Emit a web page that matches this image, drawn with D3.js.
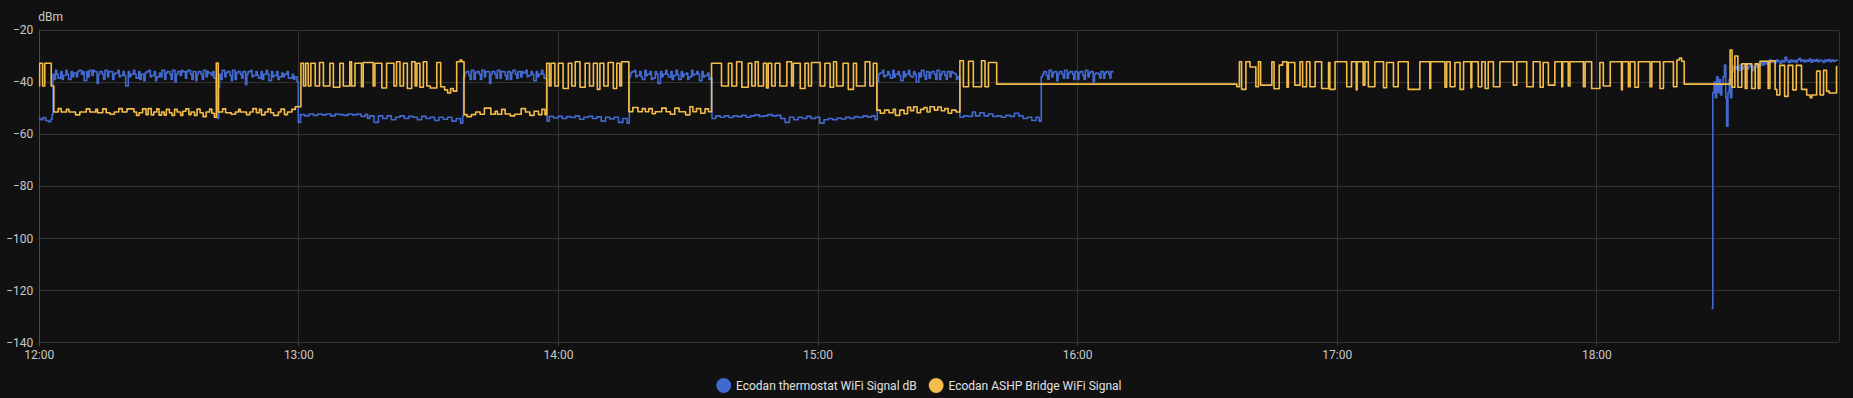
<!DOCTYPE html>
<html><head><meta charset="utf-8">
<script src="https://cdn.jsdelivr.net/npm/d3@7"></script>
<style>
html,body{margin:0;padding:0;background:#111111;}
svg{display:block;}
text{font-family:Roboto,"Noto Sans",sans-serif;}
</style></head><body>
<svg id="chart" width="1853" height="398"></svg>
<script>
// ---- data ----
const seriesNames = ["Ecodan thermostat WiFi Signal dB", "Ecodan ASHP Bridge WiFi Signal"];
const seriesColors = ["#4269d0", "#f4bd4a"];
const yTicks = [-140, -120, -100, -80, -60, -40, -20];
const yUnit = "dBm";
const xTickLabels = ["12:00", "13:00", "14:00", "15:00", "16:00", "17:00", "18:00"];
const startTime = new Date(2024, 0, 1, 12, 0);
const spanMinutes = 416; // 12:00 -> 18:56

// [minutes after 12:00, dBm]
const thermostatSignal = [
[0,-54],[0.5,-54.5],[1.0,-53.6],[1.6,-54.8],[2.2,-55.2],[2.8,-54.3],[3.1,-52.5],
[3.3,-37],[3.6,-39],[3.9,-35.5],[4.2,-37],[4.5,-38.5],[5.1,-36],[5.4,-39],[5.7,-37.5],[6.3,-35.5],[6.6,-37],[6.9,-39],[7.5,-36],[7.8,-38],[8.1,-36.5],[8.7,-38],[9.0,-36],[9.3,-35.5],[9.9,-37],[10.2,-36],[10.5,-39.5],[11.1,-36],[11.4,-38],[11.7,-35.5],[12.3,-37.5],[12.6,-35.5],[12.9,-36],[13.5,-40.5],[13.8,-37],[14.1,-36],[14.7,-37],[15.0,-39],[15.3,-35.5],[15.9,-38],[16.2,-36],[16.5,-36],[17.1,-39],[17.4,-37],[17.7,-36.5],[18.3,-35.5],[18.6,-38],[18.9,-37.5],[19.5,-36],[19.8,-37.5],[20.1,-41.5],[20.7,-36],[21.0,-38],[21.3,-37],[21.9,-35.5],[22.2,-37],[22.5,-38.5],[23.1,-36],[23.4,-39],[23.7,-37],[24.3,-39.5],[24.6,-36.5],[24.9,-36],[25.5,-35.5],[25.8,-38],[26.1,-37.5],[26.7,-36],[27.0,-39.5],[27.3,-38],[27.9,-36.5],[28.2,-38],[28.5,-35.5],[29.1,-39],[29.4,-36.5],[29.7,-36],[30.3,-37],[30.6,-39],[30.9,-35.5],[31.5,-40],[31.8,-37],[32.1,-36],[32.7,-37.5],[33.0,-35.5],[33.3,-36],[33.9,-38.5],[34.2,-36],[34.5,-35.5],[35.1,-37],[35.4,-39],[35.7,-36],[36.3,-39.5],[36.6,-37],[36.9,-36],[37.5,-37],[37.8,-39],[38.1,-35.5],[38.7,-38],[39.0,-36],[39.3,-36.5],[39.9,-37.5],[40.2,-36],[40.5,-38.5],[41.0,-40],
[41.1,-46],[41.3,-54],[41.6,-42],[41.8,-37],
[42.1,-39],[42.4,-35.5],[43.0,-38],[43.3,-36.5],[43.6,-36],[44.2,-37.5],[44.5,-39.5],[44.8,-35.5],[45.4,-39],[45.7,-36.5],[46.0,-36],[46.6,-37],[46.9,-38.5],[47.2,-36],[47.8,-41],[48.1,-37],[48.4,-36],[49.0,-35.5],[49.3,-38],[49.6,-37.5],[50.2,-36],[50.5,-37.5],[50.8,-38.5],[51.4,-36],[51.7,-39],[52.0,-37],[52.6,-35.5],[52.9,-37],[53.2,-39.5],[53.8,-36],[54.1,-38],[54.4,-37.5],[55.0,-36],[55.3,-39],[55.6,-38],[56.2,-36.5],[56.5,-38],[56.8,-37],[57.4,-36],[57.7,-38.5],[58.0,-38.5],[58.6,-37],[58.9,-39],[59.2,-38],[59.7,-40],
[60.0,-55.5],[60.5,-52.5],[61.5,-53],[62.5,-52.3],[63.5,-52.8],[64.5,-52.3],[65.5,-52.6],[66.5,-52.3],[67.5,-53],[68.5,-52.3],[69.5,-52.5],[70.5,-52.8],[71.5,-52.3],[72.5,-52.6],[73.5,-52.3],[74.5,-53.2],[75.5,-52.4],[76.0,-54],[76.5,-53],[77.5,-55.5],[78.5,-53],[79.5,-54],[80.5,-53],[81.5,-54.5],[82.5,-53.5],[83.5,-53],[84.5,-54],[85.5,-53.2],[86.5,-53.5],[87.5,-54.5],[88.5,-53.2],[89.5,-54],[90.5,-53.5],[91.5,-54.8],[92.5,-53.5],[93.5,-54.3],[94.5,-53.5],[95.5,-55],[96.5,-54],[97.5,-55.8],[98.0,-53],
[98.2,-38],[98.5,-36.5],[98.8,-36],[99.4,-37.5],[99.7,-39],[100.0,-35.5],[100.6,-39],[100.9,-36.5],[101.2,-36],[101.8,-37],[102.1,-39],[102.4,-35.5],[103.0,-38],[103.3,-36],[103.6,-36],[104.2,-40.5],[104.5,-37],[104.8,-36],[105.4,-37],[105.7,-38.5],[106.0,-35.5],[106.6,-38.5],[106.9,-36],[107.2,-36],[107.8,-37.5],[108.1,-39],[108.4,-36],[109.0,-39],[109.3,-36.5],[109.6,-35.5],[110.2,-37],[110.5,-38.5],[110.8,-36],[111.4,-38],[111.7,-36],[112.0,-36.5],[112.6,-35.5],[112.9,-38],[113.2,-37.5],[113.8,-36],[114.1,-37],[114.4,-39.5],[115.0,-36],[115.3,-38],[115.6,-37],[116.2,-35.5],[116.5,-37],[116.8,-38.5],[117.3,-39],
[117.5,-55],[118.0,-53.2],[119.0,-53.8],[120.0,-53.2],[121.0,-54],[122.0,-53.3],[123.0,-53.6],[124.0,-53],[125.0,-54.3],[126.0,-53.5],[127.0,-53.2],[128.0,-54],[129.0,-53.4],[130.0,-55],[131.0,-53.5],[132.0,-54.2],[133.0,-53.5],[134.0,-55.5],[135.0,-54],[136.0,-55.8],
[136.5,-38],[136.8,-36.5],[137.1,-36],[137.7,-35.5],[138.0,-38],[138.3,-37.5],[138.9,-36],[139.2,-38],[139.5,-39],[140.1,-35.5],[140.4,-37.5],[140.7,-37],[141.3,-36],[141.6,-39],[141.9,-38.5],[142.5,-36],[142.8,-37],[143.1,-40.5],[143.7,-36],[144.0,-38],[144.3,-37],[144.9,-35.5],[145.2,-37],[145.5,-38],[146.1,-36],[146.4,-39],[146.7,-37.5],[147.3,-35.5],[147.6,-37],[147.9,-39],[148.5,-36],[148.8,-38],[149.1,-37],[149.7,-36.5],[150.0,-39],[150.3,-38],[150.9,-35.5],[151.2,-37.5],[151.5,-37],[152.1,-36],[152.4,-37],[152.7,-39.5],[153.3,-36],[153.6,-38],[154.0,-37.5],[154.6,-36.5],[154.9,-39],[155.2,-38.5],
[155.6,-54],[156.5,-53],[157.5,-53.5],[158.5,-53],[159.5,-53.6],[160.5,-53],[161.5,-53.3],[162.5,-52.8],[163.5,-53.5],[164.5,-53],[165.5,-52.6],[166.5,-53.2],[167.5,-53],[168.5,-52.5],[169.5,-53],[170.5,-52.8],[171.5,-54],[172.5,-55.5],[173.5,-53.5],[174.5,-54.5],[175.5,-53.5],[176.5,-54],[177.5,-53.2],[178.5,-54],[179.5,-53.5],[180.5,-55.8],[181.5,-54.5],[182.5,-54],[183.5,-54.5],[184.5,-53.8],[185.5,-54.2],[186.5,-53.5],[187.5,-54],[188.5,-53.3],[189.5,-53.6],[190.5,-53],[191.5,-53.4],[192.5,-53],[193.3,-54.5],
[193.8,-40],[194.1,-37],[194.4,-36.5],[195.0,-35.5],[195.3,-38],[195.6,-37.5],[196.2,-36],[196.5,-37],[196.8,-38.5],[197.4,-35.5],[197.7,-38],[198.0,-37],[198.6,-36],[198.9,-37.5],[199.2,-39.5],[199.8,-36],[200.1,-38],[200.4,-37],[201.0,-35.5],[201.3,-37.5],[201.6,-38],[202.2,-36],[202.5,-37],[202.8,-40],[203.4,-36.5],[203.7,-38],[204.0,-35.5],[204.6,-37.5],[204.9,-39],[205.2,-36],[205.8,-38.5],[206.1,-36.5],[206.4,-36],[207.0,-37],[207.3,-39],[207.6,-35.5],[208.2,-39],[208.5,-37],[208.8,-36],[209.4,-37.5],[209.7,-39],[210.0,-36],[210.6,-38],[210.9,-36],[211.2,-36.5],[211.8,-37],[212.1,-39],[212.4,-38],
[212.9,-53.5],[213.8,-53],[214.8,-53.2],[215.8,-51.5],[216.5,-53],[217.5,-51.8],[218.5,-53],[219.5,-52.3],[220.5,-53.2],[221.5,-53],[222.5,-53.5],[223.5,-52.8],[224.5,-53.2],[225.5,-52],[226.5,-53],[227.5,-54],[228.5,-53.5],[229.5,-54.8],[230.5,-53.5],[231.2,-55],
[231.7,-38],[232.0,-37],[232.3,-36],[232.9,-37.5],[233.2,-39],[233.5,-35.5],[234.1,-38],[234.4,-36.5],[234.7,-36],[235.3,-39.5],[235.6,-37],[235.9,-36],[236.5,-37],[236.8,-38.5],[237.1,-35.5],[237.7,-38.5],[238.0,-36.5],[238.3,-36],[238.9,-37],[239.2,-39],[239.5,-36],[240.1,-39],[240.4,-36.5],[240.7,-36],[241.3,-37.5],[241.6,-39],[241.9,-35.5],[242.5,-38],[242.8,-36.5],[243.1,-36],[243.7,-40],[244.0,-37],[244.3,-36.5],[244.9,-37],[245.2,-38.5],[245.5,-36],[246.1,-38.5],[246.4,-36.5],[246.7,-36],[247.3,-37],[247.6,-38.5],[247.8,-36],[248.4,-36],
[248.5,null],
[386.6,-127],[386.9,-44],[387.2,-40],[387.5,-46],[387.8,-38],[388.1,-44],[388.4,-39],[388.7,-45],[389.0,-41],[389.3,-38],[389.6,-33.5],[389.9,-46],[390.1,-57],[390.4,-44],[390.7,-39],[391.0,-46],[391.3,-36],[391.6,-34],[392.0,-35],[392.4,-34],[392.8,-35.5],[393.2,-33.5],[393.6,-35],[394.0,-34],[394.4,-33],[394.8,-35],[395.2,-34],[395.6,-33.5],[396.0,-35.5],[396.4,-34],[396.8,-33],[397.2,-34.5],[397.6,-33.5],[398.0,-32.5],[398.4,-33.5],[398.8,-32],[399.2,-33],[399.6,-32],[400.0,-31.5],[400.4,-32.5],[400.8,-31.8],[401.2,-32.5],[401.6,-31.5],[402.0,-32],[402.4,-32.8],[402.8,-31.7],[403.2,-32.3],[403.6,-30.5],[404.0,-31.8],[404.4,-32.5],[404.8,-31.5],[405.2,-32.2],[405.6,-31.7],[406.0,-32.5],[406.4,-31.5],[406.8,-31],[407.2,-32],[407.6,-31.5],[408.0,-32.3],[408.4,-31.6],[408.8,-32],[409.2,-31.2],[409.6,-32.4],[410.0,-31.5],[410.4,-32],[410.8,-31.4],[411.2,-32.2],[411.6,-31.6],[412.0,-31.8],[412.4,-32.5],[412.8,-31.5],[413.2,-32],[413.6,-31.4],[414.0,-32.2],[414.4,-31.5],[414.8,-32],[415.2,-31.6],[415.7,-31.8]
];

const bridgeSignal = [
[0,-41.5],[0.2,-32.8],[0.9,-41.5],[1.4,-32.8],[2.9,-41.5],[3.5,-51.5],
[4.5,-50.2],[5.2,-51.5],[6.4,-50.5],[7.0,-51.5],[8.5,-52.6],[9.5,-51.5],[11.0,-50.3],[11.8,-51.5],[13.2,-50.5],[13.6,-51.8],[14.8,-50.3],[15.6,-51.8],[16.5,-52.4],[17.5,-51.5],[18.5,-50.2],[19.3,-51.5],[20.4,-50.3],[22.0,-51.5],[22.6,-52.8],[23.2,-51.8],[24.0,-50.3],[24.8,-52.5],[25.3,-50.2],[26.0,-52.6],[26.6,-51.5],[27.3,-50.3],[27.8,-52.7],[28.4,-51.5],[29.0,-52.7],[29.5,-50.5],[30.2,-51.8],[30.8,-52.8],[31.4,-50.5],[32.0,-51.5],[32.8,-52.8],[33.3,-51.2],[34.0,-50.3],[34.7,-52.5],[35.2,-51.5],[36.0,-52.8],[36.6,-50.4],[37.3,-51.8],[38.0,-53.3],[38.7,-51.5],[39.5,-50.4],[40.0,-52],[40.6,-53.5],
[41.05,-32.7],[41.5,-51.5],
[42.5,-50.3],[43.2,-51.8],[44.5,-52.4],[45.5,-51.5],[46.2,-50.5],[46.6,-51.5],[48.0,-52.5],[48.8,-51.5],[49.5,-50.2],[50.3,-51.8],[51.0,-50.5],[51.5,-52.6],[52.3,-51.5],[53.0,-50.3],[53.6,-51.8],[54.3,-52.8],[55.4,-51.5],[56.0,-50.4],[56.8,-52.5],[57.5,-51.5],[58.5,-50.5],[59.3,-49.5],
[60.6,-32.8],[61.2,-41.5],[61.7,-32.8],[62.3,-41.5],[62.9,-32.8],[63.9,-41.5],[64.9,-32.5],[65.8,-41.5],[67.3,-32.8],[68.1,-42],[69.6,-32.8],[70.4,-41.5],[71.9,-32.2],[72.3,-41.5],[73.1,-32.8],[74.6,-41.8],[75.0,-32.5],[77.3,-41.5],[77.7,-32.8],[79.3,-42.3],[80.4,-32.8],[82.1,-41.5],[82.7,-32.2],[83.5,-41.5],[84.3,-32.8],[85.2,-42.5],[86.2,-32.2],[87.0,-41.5],[87.4,-32.8],[88.1,-42],[88.9,-32.2],[89.7,-41.5],[90.5,-42.3],[92.0,-32.5],[92.9,-41.8],[93.8,-43],[94.5,-44.2],[95.2,-42.5],[95.8,-43.5],[96.6,-32.2],[97.4,-31.5],[97.8,-32.2],
[98.3,-52.5],[99.0,-53.3],[100.0,-52.5],[101.0,-51.5],[102.0,-52.4],[103.0,-50.0],[104.5,-52.4],[105.5,-51.2],[106.0,-52.4],[107.0,-50.5],[107.8,-52.3],[109.0,-53.0],[110.0,-52.4],[111.5,-50.2],[112.5,-51.5],[113.5,-52.8],[114.5,-51.2],[115.5,-52.5],[116.3,-50.5],[117.0,-52.5],
[117.4,-32.8],[118.0,-41.5],[118.4,-32.8],[119.3,-41.5],[120.1,-32.8],[121.2,-42.5],[122.4,-32.8],[123.2,-41.5],[124.0,-32.2],[125.1,-42],[126.3,-32.8],[127.3,-41.5],[128.2,-32.8],[129.1,-42.8],[129.7,-32.8],[130.6,-41.5],[131.6,-32.5],[132.8,-42.5],[133.6,-32.8],[134.3,-41.5],[134.7,-32.2],
[136.4,-51.4],[137.3,-49.8],[138.5,-51.4],[139.5,-50.2],[140.2,-51.4],[141.0,-50.2],[141.8,-52.2],[142.5,-51.4],[144.0,-50.0],[145.0,-51.4],[146.0,-52.4],[147.0,-50.0],[148.0,-51.4],[149.5,-52.6],[150.5,-49.5],[151.2,-51.4],[152.0,-50.2],[153.0,-52],[154.0,-50.3],[154.8,-51.4],
[155.5,-32.8],[157.8,-41.5],[159.4,-32.8],[160.2,-41.5],[161.3,-32.2],[162.5,-42],[164.0,-32.8],[164.8,-41.5],[165.6,-32.2],[166.3,-41.5],[167.5,-32.8],[168.2,-42.3],[168.6,-32.8],[169.4,-41.5],[170.2,-32.8],[171.3,-41.5],[172.9,-32.2],[174.0,-41.5],[174.4,-32.8],[176.0,-42.5],[177.1,-32.8],[177.9,-41.5],[178.6,-32.5],[180.6,-41.5],[181.7,-32.8],[182.9,-42],[183.7,-32.2],[184.4,-41.5],[185.9,-32.8],[187.1,-42.8],[188.3,-32.8],[189.0,-41.5],[191.0,-32.2],[192.1,-41.5],[192.9,-32.8],
[193.7,-50.8],[194.5,-52],[195.5,-50.8],[196.5,-51.8],[197.5,-50.5],[198.0,-52.8],[199.0,-50.8],[200.0,-52.2],[200.8,-49.7],[201.5,-51],[202.2,-49.5],[203.0,-51.8],[203.8,-50.5],[204.6,-49.8],[205.3,-51.5],[206.0,-49.5],[207.0,-50.8],[207.8,-49.6],[208.6,-51],[209.4,-50.2],[210.2,-52],[211.0,-50.8],[212.0,-51.5],
[212.9,-31.8],[213.7,-41.8],[214.9,-32],[216.0,-41.8],[217.9,-31.8],[218.7,-41.8],[219.5,-32.5],[221.4,-40.8],
[276.9,-41.8],[277.5,-32.2],[278.0,-42.8],[279.0,-32.2],[279.95,-34.2],[281.3,-41.8],[281.9,-32.2],[282.4,-41.2],[285.0,-32.2],[285.5,-42.6],[286.7,-33.5],[287.5,-32.2],[288.5,-42],[288.8,-32.5],[290.3,-41.2],[291.5,-32.2],[292.1,-41.8],[293.0,-32.2],[293.8,-41.8],[295.0,-32.2],[296.5,-42.5],[298.1,-32.5],[298.4,-42.8],[299.6,-32.2],[302.3,-41.8],[303.4,-32.2],[304.5,-43],[304.7,-32.2],[306.1,-41.2],[306.5,-32.2],[307.3,-41.8],[308.8,-32.2],[310.8,-42.2],[311.5,-32.5],[313.1,-41.8],[314.2,-32.2],[316.5,-42.8],[319.2,-32.2],[321.5,-42.5],[321.7,-32.2],[325.0,-42],[325.4,-32.2],[326.2,-41.8],[327.3,-32.5],[328.5,-42.8],[329.3,-32.2],[331.0,-42.2],[331.2,-32.2],[332.7,-41.8],[333.5,-32.2],[334.3,-42.5],[335.0,-32.2],[336.2,-41.8],[337.7,-32.2],[340.8,-41.2],[341.6,-32.2],[343.9,-41.8],[345.4,-32.2],[347.0,-42],[347.7,-32.5],[348.9,-41.2],[350.4,-32.2],[352.0,-41.8],[352.2,-32.2],[353.5,-41.5],[353.9,-32.2],[357.0,-41.8],[357.4,-32.2],[358.9,-42.5],[360.8,-32.5],[361.6,-41.5],[363.2,-32.2],[365.8,-43],[366.0,-32.2],[367.4,-41.8],[367.8,-32.2],[368.9,-42],[369.7,-32.2],[372.4,-41.8],[372.8,-32.2],[374.7,-42.5],[375.5,-32.2],[377.8,-41.8],[378.6,-31.5],[379.2,-30.8],[379.7,-32],[380.3,-40.8],
[390.9,-27.7],[391.35,-42],[392.0,-30],[392.7,-42],[393.6,-33],[394.4,-42.5],[394.8,-33],[395.9,-42.5],[396.7,-33],[397.4,-42.5],[397.8,-32],[399.7,-42.5],[400.1,-31.8],[401.3,-42.8],[401.7,-45],[402.4,-33.6],[403.5,-45.5],[404.3,-33.6],[405.4,-43],[406.2,-33.6],[407.4,-42.8],[408.6,-45],[409.4,-46],[409.8,-45],[410.9,-35.8],[411.7,-45],[412.5,-35.5],[413.2,-43.5],[413.8,-44.2],[415.5,-34],[415.7,-34]
];

// ---- layout ----
const W = 1853, H = 398;
const plot = {left: 38.7, right: 1838.7, top: 30, bottom: 342.3};
const gridColor = "#333333";
const textColor = "#c8c8c8";

const svg = d3.select("#chart");
svg.append("rect").attr("width", W).attr("height", H).attr("fill", "#111111");

const toDate = m => new Date(startTime.getTime() + m * 60000);
const x = d3.scaleTime().domain([startTime, toDate(spanMinutes)]).range([plot.left, plot.right]);
const y = d3.scaleLinear().domain([d3.min(yTicks), d3.max(yTicks)]).range([plot.bottom, plot.top]);

const hourTicks = xTickLabels.map(s => { const [h, mm] = s.split(":").map(Number); return new Date(2024, 0, 1, h, mm); });

// grid
const g = svg.append("g");
g.selectAll("line.h").data(yTicks).join("line")
  .attr("x1", plot.left).attr("x2", plot.right)
  .attr("y1", d => Math.round(y(d)) + 0.5).attr("y2", d => Math.round(y(d)) + 0.5)
  .attr("stroke", gridColor).attr("stroke-width", 1);
g.selectAll("line.v").data(hourTicks).join("line")
  .attr("x1", d => Math.round(x(d)) + 0.5).attr("x2", d => Math.round(x(d)) + 0.5)
  .attr("y1", plot.top).attr("y2", plot.bottom + 4)
  .attr("stroke", d => +d === +startTime ? "#4a4a4a" : gridColor).attr("stroke-width", 1);
g.append("line").attr("x1", Math.round(plot.right) + 0.5).attr("x2", Math.round(plot.right) + 0.5)
  .attr("y1", plot.top).attr("y2", plot.bottom).attr("stroke", gridColor);

// y axis
const yAxis = svg.append("g").attr("transform", `translate(${plot.left},0)`)
  .call(d3.axisLeft(y).tickValues(yTicks).tickSize(0).tickPadding(5.4).tickFormat(d3.format("d")));
yAxis.select(".domain").remove();
yAxis.selectAll("text").attr("fill", textColor).style("font-size", "12px").style("font-family", "Roboto");

svg.append("text").attr("x", 38.3).attr("y", 20.5).text(yUnit)
  .attr("fill", textColor).style("font-size", "12px");

// x axis
const xAxis = svg.append("g").attr("transform", `translate(0,${plot.bottom})`)
  .call(d3.axisBottom(x).tickValues(hourTicks).tickSize(0).tickPadding(8).tickFormat((d, i) => xTickLabels[i]));
xAxis.select(".domain").remove();
xAxis.selectAll("text").attr("fill", textColor).style("font-size", "12px").style("font-family", "Roboto");

// lines
const line = d3.line()
  .defined(d => d[1] !== null)
  .x(d => x(toDate(d[0])))
  .y(d => y(d[1]))
  .curve(d3.curveStepAfter);

svg.append("clipPath").attr("id", "clip").append("rect")
  .attr("x", plot.left).attr("y", 0).attr("width", plot.right - plot.left + 2).attr("height", plot.bottom + 2);

const series = [thermostatSignal, bridgeSignal];
svg.append("g").attr("clip-path", "url(#clip)")
  .selectAll("path").data(series).join("path")
  .attr("d", d => line(d))
  .attr("fill", "none")
  .attr("stroke", (d, i) => seriesColors[i])
  .attr("stroke-width", 1.6)
  .attr("stroke-linejoin", "round");

// legend
const legend = svg.append("g");
let lx = 723.7;
seriesNames.forEach((name, i) => {
  legend.append("circle").attr("cx", lx).attr("cy", 385.5).attr("r", 7.4).attr("fill", seriesColors[i]);
  const t = legend.append("text").attr("x", lx + 12.3).attr("y", 389.6).text(name)
    .attr("fill", "#e1e1e1").style("font-size", "12px");
  const w = t.node().getComputedTextLength();
  lx = lx + 12.3 + w + 12 + 7.4;
});
</script>
</body></html>
